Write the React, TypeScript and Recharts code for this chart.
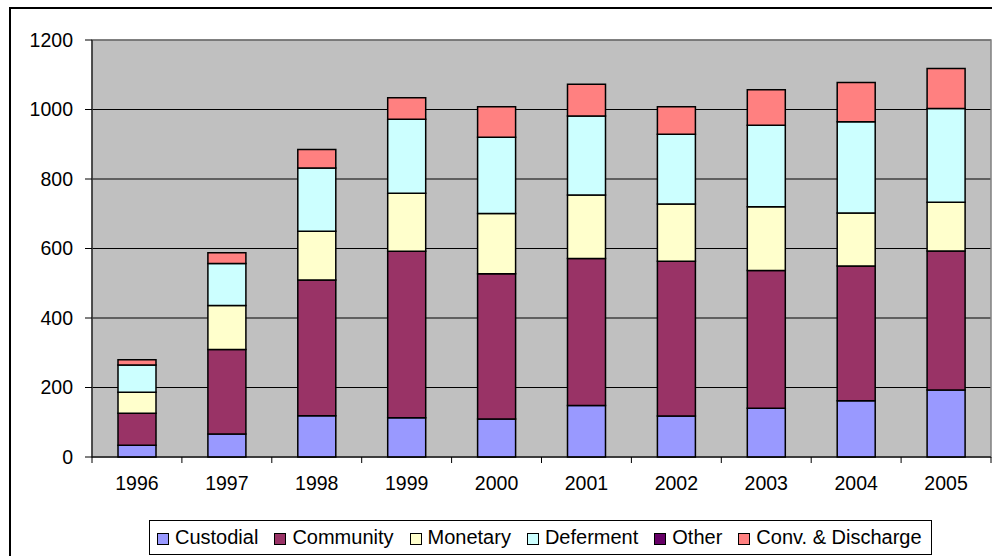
import { BarChart, Bar, XAxis, YAxis, CartesianGrid, Legend, ReferenceArea } from 'recharts';

// values (thousands of sentences per year)
const years = ['1996', '1997', '1998', '1999', '2000', '2001', '2002', '2003', '2004', '2005'];
const custodial = [34, 66, 119, 113, 109, 148, 118, 140, 162, 193];
const community = [92, 243, 390, 479, 418, 423, 445, 397, 388, 400];
const monetary = [60, 127, 141, 167, 174, 183, 165, 183, 152, 140];
const deferment = [79, 121, 182, 213, 219, 227, 201, 235, 263, 270];
const other = [0, 0, 0, 0, 0, 0, 0, 0, 0, 0];
const conv = [15, 31, 53, 62, 88, 92, 79, 102, 113, 115];
const yTicks = [0, 200, 400, 600, 800, 1000, 1200];

const series = [
  { key: 'custodial', name: 'Custodial', color: '#9999FF', values: custodial },
  { key: 'community', name: 'Community', color: '#993366', values: community },
  { key: 'monetary', name: 'Monetary', color: '#FFFFCC', values: monetary },
  { key: 'deferment', name: 'Deferment', color: '#CCFFFF', values: deferment },
  { key: 'other', name: 'Other', color: '#660066', values: other },
  { key: 'conv', name: 'Conv. & Discharge', color: '#FF8080', values: conv },
];

const data = years.map((year, i) => {
  const row: Record<string, string | number> = { year };
  series.forEach((s) => {
    row[s.key] = s.values[i];
  });
  return row;
});

const FONT = '"Liberation Sans", Arial, sans-serif';

// Excel puts the category ticks between the bars, not under them
function YearTick(props: any) {
  const { x, y, payload } = props;
  const half = payload?.offset ?? 45;
  const isLast = payload?.value === years[years.length - 1];
  return (
    <g>
      <line x1={x - half} y1={y} x2={x - half} y2={y + 6} stroke="#000" />
      {isLast && <line x1={x + half} y1={y} x2={x + half} y2={y + 6} stroke="#000" />}
      <text x={x} y={y + 33} textAnchor="middle" fontSize={19.5} fontFamily={FONT} fill="#000">
        {payload.value}
      </text>
    </g>
  );
}

function LegendBox(props: any) {
  const order = series.map((s) => s.name);
  const items = [...(props.payload || [])].sort(
    (a: any, b: any) => order.indexOf(a.value) - order.indexOf(b.value)
  );
  return (
    <div style={{ height: 36 }}>
      <div
        style={{
          display: 'inline-flex',
          alignItems: 'center',
          boxSizing: 'border-box',
          height: 35,
          border: '1px solid #000',
          background: '#fff',
          padding: '0 9px 0 7px',
          fontFamily: FONT,
          fontSize: 20,
          color: '#000',
          whiteSpace: 'nowrap',
        }}
      >
        {items.map((entry: any, i: number) => (
          <span key={entry.value} style={{ display: 'inline-flex', alignItems: 'center', marginLeft: i === 0 ? 0 : 16 }}>
            <span
              style={{
                display: 'inline-block',
                boxSizing: 'border-box',
                width: 12,
                height: 12,
                border: '1px solid #000',
                background: entry.color,
                marginRight: 6,
                marginTop: 2,
              }}
            />
            {entry.value}
          </span>
        ))}
      </div>
    </div>
  );
}

export default function App() {
  return (
    <div style={{ position: 'absolute', left: 0, top: 0, width: 992, height: 556, overflow: 'hidden', background: '#fff' }}>
      <div
        style={{
          position: 'absolute',
          left: 9,
          top: 7,
          width: 1000,
          height: 570,
          border: '2px solid #000',
          boxSizing: 'border-box',
        }}
      />
      <div style={{ position: 'absolute', left: 0, top: 0 }}>
        <BarChart width={992} height={556} data={data} margin={{ top: 40, right: 1, bottom: 0, left: 32 }} barSize={38}>
          <CartesianGrid vertical={false} stroke="#000" fill="#C0C0C0" fillOpacity={1} />
          <XAxis
            dataKey="year"
            height={63}
            axisLine={{ stroke: '#000' }}
            tickLine={false}
            tickSize={0}
            tickMargin={0}
            tick={<YearTick />}
            interval={0}
          />
          <YAxis
            width={60}
            domain={[0, 1200]}
            ticks={yTicks}
            interval={0}
            axisLine={{ stroke: '#000' }}
            tickLine={{ stroke: '#000' }}
            tickSize={7}
            tickMargin={12}
            tick={{ fill: '#000', fontSize: 19.5, fontFamily: FONT }}
          />
          <ReferenceArea y1={0} y2={1200} fill="none" stroke="#808080" strokeWidth={1.5} ifOverflow="visible" />
          {series.map((s) => (
            <Bar
              key={s.key}
              dataKey={s.key}
              name={s.name}
              stackId="sentences"
              fill={s.color}
              stroke="#000"
              strokeWidth={1.5}
              isAnimationActive={false}
            />
          ))}
          <Legend
            verticalAlign="bottom"
            content={<LegendBox />}
            wrapperStyle={{ left: 149, width: 800 }}
          />
        </BarChart>
      </div>
    </div>
  );
}
